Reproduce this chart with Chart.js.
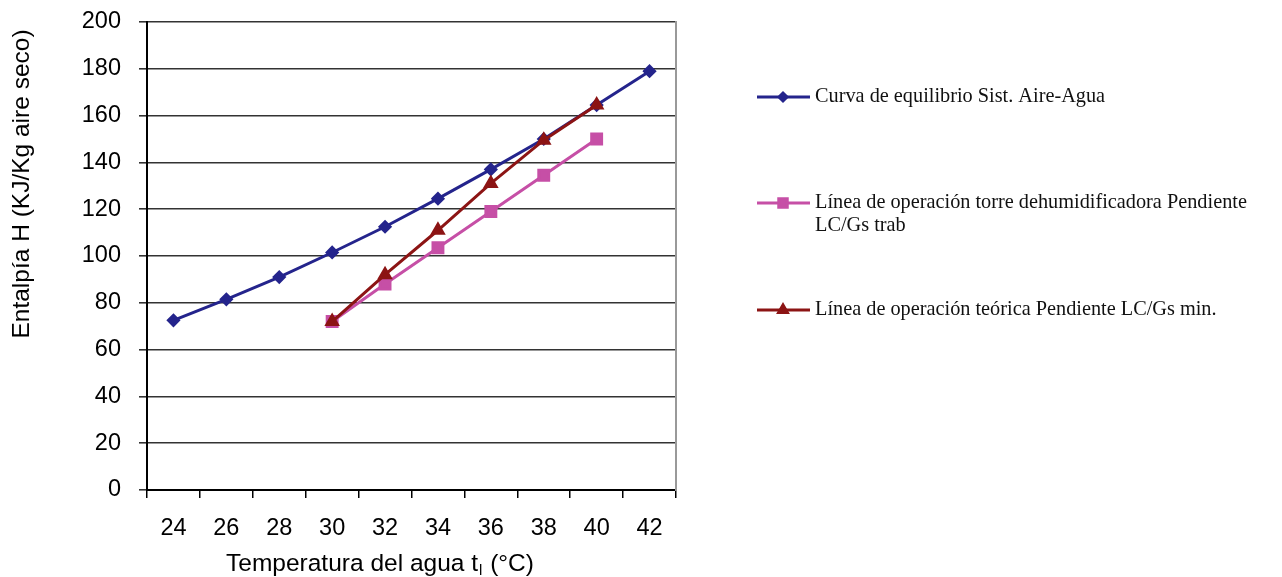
<!DOCTYPE html>
<html>
<head>
<meta charset="utf-8">
<script src="https://cdn.jsdelivr.net/npm/chart.js@4/dist/chart.umd.min.js"></script>
<style>
  html, body { margin: 0; padding: 0; background: #fff; }
  #wrap { width: 1282px; height: 577px; }
</style>
</head>
<body>
<div id="wrap"><canvas id="chart"></canvas></div>
<script>
// Data
const temps      = ['24', '26', '28', '30', '32', '34', '36', '38', '40', '42'];
const equilibrio = [72.5, 81.5, 91, 101.5, 112.5, 124.5, 137, 150, 164.5, 179];
const opTrab     = [null, null, null, 72, 88, 103.5, 119, 134.5, 150, null];
const opMin      = [null, null, null, 72, 92, 111, 131, 149.5, 164.5, null];
const yTicks     = { min: 0, max: 200, step: 20 };

const labels = [
  'Curva de equilibrio Sist. Aire-Agua',
  'Línea de operación torre dehumidificadora Pendiente LC/Gs trab',
  'Línea de operación teórica Pendiente LC/Gs min.'
];
const yTitle = 'Entalpía H (KJ/Kg aire seco)';
const xTitle = ['Temperatura del agua t', 'l', ' (°C)'];

const sansFont = 'Liberation Sans, Arial, sans-serif';
const serifFont = 'Liberation Serif, Times New Roman, serif';

// legend + axis titles drawn on the canvas
const extras = {
  id: 'extras',
  afterDraw(chart) {
    const ctx = chart.ctx, area = chart.chartArea;
    ctx.save();

    // y title
    ctx.fillStyle = '#000';
    ctx.font = '24.5px ' + sansFont;
    ctx.textAlign = 'center';
    ctx.textBaseline = 'middle';
    ctx.translate(22, 184);
    ctx.rotate(-Math.PI / 2);
    ctx.fillText(yTitle, 0, 0);
    ctx.setTransform(1, 0, 0, 1, 0, 0);

    // x title with subscript
    ctx.textAlign = 'left';
    ctx.font = '24.5px ' + sansFont;
    const w0 = ctx.measureText(xTitle[0]).width;
    ctx.font = '15px ' + sansFont;
    const w1 = ctx.measureText(xTitle[1]).width;
    ctx.font = '24.5px ' + sansFont;
    const w2 = ctx.measureText(xTitle[2]).width;
    let x = 380 - (w0 + w1 + w2 + 2) / 2;
    const yb = 564;
    ctx.fillText(xTitle[0], x, yb);
    ctx.font = '15px ' + sansFont;
    ctx.fillText(xTitle[1], x + w0 + 1, yb + 7);
    ctx.font = '24.5px ' + sansFont;
    ctx.fillText(xTitle[2], x + w0 + w1 + 2, yb);

    // legend
    const lx = area.right + 81, rowY = [97, 203, 310];
    const maxW = 1272 - (lx + 58);
    chart.data.datasets.forEach((ds, i) => {
      const y = rowY[i];
      ctx.strokeStyle = ds.borderColor;
      ctx.fillStyle = ds.backgroundColor;
      ctx.lineWidth = 3;
      ctx.beginPath();
      ctx.moveTo(lx, y);
      ctx.lineTo(lx + 53, y);
      ctx.stroke();
      Chart.helpers.drawPoint(ctx, {
        pointStyle: ds.pointStyle, radius: ds.pointRadius - 1, rotation: 0, borderWidth: 1
      }, lx + 26, y);

      ctx.fillStyle = '#111';
      ctx.font = '20.3px ' + serifFont;
      ctx.textBaseline = 'middle';
      ctx.textAlign = 'left';
      const words = ds.label.split(' ');
      const lines = [];
      let cur = '';
      words.forEach(wd => {
        const t = cur ? cur + ' ' + wd : wd;
        if (ctx.measureText(t).width > maxW && cur) { lines.push(cur); cur = wd; }
        else cur = t;
      });
      lines.push(cur);
      lines.forEach((ln, k) => ctx.fillText(ln, lx + 58, y + k * 23));
    });
    ctx.restore();
  }
};

new Chart(document.getElementById('chart'), {
  type: 'line',
  data: {
    labels: temps,
    datasets: [
      { label: labels[0], data: equilibrio, borderColor: '#24248c', backgroundColor: '#24248c',
        pointStyle: 'rectRot', pointRadius: 5, borderWidth: 3, order: 3 },
      { label: labels[1], data: opTrab, borderColor: '#c64fa6', backgroundColor: '#c64fa6',
        pointStyle: 'rect', pointRadius: 7, borderWidth: 3, order: 2 },
      { label: labels[2], data: opMin, borderColor: '#8c1414', backgroundColor: '#8c1414',
        pointStyle: 'triangle', pointRadius: 6, borderWidth: 3, order: 1 }
    ]
  },
  options: {
    responsive: true,
    maintainAspectRatio: false,
    animation: false,
    layout: { padding: { top: 22, right: 606, left: 0, bottom: 0 } },
    elements: { line: { tension: 0 }, point: { borderWidth: 1, hoverRadius: 6 } },
    plugins: { legend: { display: false }, tooltip: { enabled: false } },
    scales: {
      x: {
        offset: true,
        grid: { offset: true, drawOnChartArea: false, drawTicks: true, tickLength: 8, color: '#000', lineWidth: 1.5 },
        border: { color: '#000', width: 2 },
        ticks: { color: '#000', font: { family: sansFont, size: 23.5 }, padding: 16, maxRotation: 0, autoSkip: false },
        afterFit: s => { s.height = 87; s.paddingLeft = 0; s.paddingRight = 0; }
      },
      y: {
        min: yTicks.min, max: yTicks.max,
        grid: { color: '#333', lineWidth: 1.6, tickLength: 8 },
        border: { color: '#000', width: 2 },
        ticks: { stepSize: yTicks.step, color: '#000', font: { family: sansFont, size: 23.5 }, padding: 18 },
        afterFit: s => { s.width = 147; s.paddingTop = 0; s.paddingBottom = 0; }
      },
      y2: {
        position: 'right',
        min: yTicks.min, max: yTicks.max,
        grid: { drawOnChartArea: false, drawTicks: false },
        border: { color: '#999', width: 2 },
        ticks: { display: false },
        afterFit: s => { s.width = 0; s.paddingTop = 0; s.paddingBottom = 0; }
      }
    }
  },
  plugins: [extras]
});
</script>
</body>
</html>
